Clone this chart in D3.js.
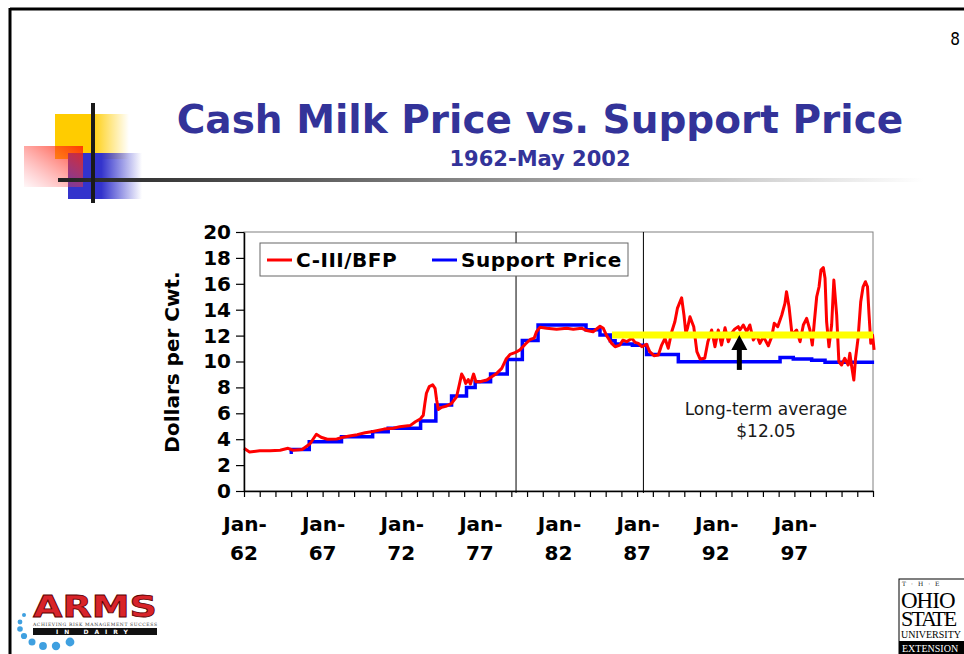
<!DOCTYPE html>
<html>
<head>
<meta charset="utf-8">
<script src="https://cdn.jsdelivr.net/npm/d3@7"></script>
<style>
  body { margin: 0; background: #fff; }
  svg { display: block; }
</style>
</head>
<body>
<svg></svg>
<script>
const width = 964, height = 654

// C-III / BFP cash price (decimal year, $/cwt)
const priceYears = [1962.0, 1962.35, 1963.0, 1963.65, 1964.3, 1964.8, 1965.1, 1965.7, 1966.2, 1966.6,
    1966.9, 1967.3, 1967.9, 1968.3, 1968.7, 1969.2, 1969.7, 1970.2, 1970.9, 1971.5,
    1971.9, 1972.56, 1972.9, 1973.2, 1973.4, 1973.5, 1973.6, 1973.78, 1974.0, 1974.15,
    1974.25, 1974.36, 1974.57, 1974.89, 1975.2, 1975.52, 1975.69, 1975.84, 1975.99, 1976.1,
    1976.26, 1976.4, 1976.6, 1976.75, 1977.0, 1977.44, 1977.75, 1978.07, 1978.39, 1978.66,
    1978.92, 1979.23, 1979.55, 1979.9, 1980.2, 1980.45, 1980.6, 1980.82, 1981.25, 1981.88,
    1982.52, 1982.94, 1983.47, 1983.79, 1984.2, 1984.64, 1984.85, 1985.06, 1985.38, 1985.6,
    1985.9, 1986.1, 1986.34, 1986.66, 1986.87, 1987.08, 1987.3, 1987.6, 1987.8, 1988.07,
    1988.35, 1988.56, 1988.77, 1988.98, 1989.2, 1989.4, 1989.56, 1989.83, 1989.98, 1990.1,
    1990.2, 1990.36, 1990.6, 1990.8, 1991.0, 1991.3, 1991.5, 1991.74, 1991.95, 1992.16,
    1992.37, 1992.59, 1992.8, 1993.0, 1993.2, 1993.43, 1993.54, 1993.75, 1993.97, 1994.17,
    1994.39, 1994.6, 1994.81, 1995.03, 1995.34, 1995.56, 1995.72, 1995.94, 1996.2, 1996.4,
    1996.5, 1996.66, 1996.83, 1997.0, 1997.14, 1997.36, 1997.57, 1997.78, 1997.99, 1998.14,
    1998.27, 1998.42, 1998.57, 1998.69, 1998.84, 1998.95, 1999.05, 1999.2, 1999.37, 1999.51,
    1999.69, 1999.83, 2000.0, 2000.2, 2000.42, 2000.53, 2000.63, 2000.78, 2000.89, 2001.05,
    2001.22, 2001.37, 2001.52, 2001.65, 2001.75, 2001.86, 2001.97, 2002.07]
const priceValues = [3.3, 3.02, 3.1, 3.1, 3.15, 3.3, 3.15, 3.2, 3.65, 4.38,
    4.15, 4.0, 4.02, 4.15, 4.25, 4.35, 4.5, 4.6, 4.78, 4.85,
    4.97, 5.05, 5.35, 5.55, 5.85, 6.75, 7.55, 8.06, 8.2, 7.93,
    7.03, 6.3, 6.46, 6.56, 6.77, 7.28, 8.19, 9.03, 8.7, 8.3,
    8.6, 8.26, 9.03, 8.44, 8.44, 8.57, 8.83, 9.08, 9.47, 10.17,
    10.55, 10.68, 10.9, 11.35, 11.7, 11.8, 12.3, 12.64, 12.57, 12.49,
    12.57, 12.49, 12.57, 12.39, 12.3, 12.72, 12.56, 12.0, 11.4, 11.14,
    11.27, 11.66, 11.53, 11.79, 11.48, 11.4, 11.14, 11.33, 10.76, 10.45,
    10.5, 11.27, 11.79, 11.02, 12.3, 13.07, 14.1, 14.92, 13.58, 12.17,
    12.56, 13.46, 12.69, 10.76, 10.2, 10.25, 11.53, 12.43, 11.14, 12.43,
    11.27, 12.6, 11.53, 12.17, 12.5, 12.69, 12.43, 12.82, 12.3, 12.82,
    11.66, 12.05, 11.4, 11.92, 11.22, 11.92, 12.95, 12.69, 13.59, 14.49,
    15.39, 14.23, 12.3, 12.25, 12.43, 11.53, 12.82, 13.33, 12.43, 11.27,
    13.07, 15.0, 15.77, 17.06, 17.25, 16.42, 13.07, 11.14, 12.82, 16.29,
    13.59, 9.98, 9.73, 10.25, 9.73, 10.63, 9.73, 8.57, 10.25, 11.79,
    14.62, 15.77, 16.16, 15.77, 13.59, 11.4, 12.05, 10.9]

// support price, each value holds from its year until the next one
const supportYears = [1964.9, 1965.0, 1966.15, 1968.2, 1970.18, 1971.17, 1973.23, 1974.2, 1975.2, 1976.15,
    1976.7, 1977.68, 1978.74, 1979.7, 1980.7, 1983.75, 1984.64, 1985.3, 1985.6, 1986.7,
    1987.6, 1989.62, 1996.09, 1996.93, 1998.1, 1998.95, 2002.07]
const supportValues = [3.0, 3.2, 3.8, 4.18, 4.57, 4.84, 5.41, 6.64, 7.34, 8.0,
    8.44, 9.03, 10.15, 11.62, 12.82, 12.45, 12.05, 11.6, 11.35, 11.25,
    10.55, 9.98, 10.3, 10.2, 10.1, 9.94, 9.94]

const yTickValues = [0, 2, 4, 6, 8, 10, 12, 14, 16, 18, 20]
const xLabelYears = [1962, 1967, 1972, 1977, 1982, 1987, 1992, 1997]
const xLabelTexts = ["62", "67", "72", "77", "82", "87", "92", "97"]
const eraLines = [1979.3, 1987.4]
const averageValue = 12.05, averageFrom = 1985.4, averageTo = 2002.0
const arrowYear = 1993.5, arrowFoot = 9.35

const svg = d3.select("svg")
    .attr("width", width)
    .attr("height", height)

const x = d3.scaleLinear().domain([1962, 2002]).range([244, 873])
const y = d3.scaleLinear().domain([0, 20]).range([491, 232])

const chartFont = "'DejaVu Sans', Verdana, sans-serif"

drawSlide()
drawChart()
drawLogos()

function drawSlide() {
    const defs = svg.append("defs")

    const yellowGrad = defs.append("linearGradient").attr("id", "yellowGrad")
    yellowGrad.append("stop").attr("offset", "0%").attr("stop-color", "#ffcc00")
    yellowGrad.append("stop").attr("offset", "48%").attr("stop-color", "#ffcc00")
    yellowGrad.append("stop").attr("offset", "100%").attr("stop-color", "#ffcc00").attr("stop-opacity", 0)

    const blueGrad = defs.append("linearGradient").attr("id", "blueGrad")
    blueGrad.append("stop").attr("offset", "0%").attr("stop-color", "#3333cc")
    blueGrad.append("stop").attr("offset", "45%").attr("stop-color", "#3333cc")
    blueGrad.append("stop").attr("offset", "100%").attr("stop-color", "#3333cc").attr("stop-opacity", 0)

    const redGrad = defs.append("linearGradient").attr("id", "redGrad")
        .attr("x1", "100%").attr("y1", "0%").attr("x2", "0%").attr("y2", "100%")
    redGrad.append("stop").attr("offset", "0%").attr("stop-color", "#ff2200").attr("stop-opacity", 0.85)
    redGrad.append("stop").attr("offset", "100%").attr("stop-color", "#ff5a6a").attr("stop-opacity", 0.05)

    const barGrad = defs.append("linearGradient").attr("id", "barGrad")
    barGrad.append("stop").attr("offset", "0%").attr("stop-color", "#222")
    barGrad.append("stop").attr("offset", "25%").attr("stop-color", "#555")
    barGrad.append("stop").attr("offset", "100%").attr("stop-color", "#fff")

    // slide border
    svg.append("line").attr("x1", 10).attr("y1", 9).attr("x2", width).attr("y2", 9)
        .attr("stroke", "#000").attr("stroke-width", 3)
    svg.append("line").attr("x1", 10).attr("y1", 8).attr("x2", 10).attr("y2", height)
        .attr("stroke", "#000").attr("stroke-width", 3)

    // corner ornament
    svg.append("rect").attr("x", 55).attr("y", 114).attr("width", 74).attr("height", 45).attr("fill", "url(#yellowGrad)")
    svg.append("rect").attr("x", 68).attr("y", 153).attr("width", 74).attr("height", 46).attr("fill", "url(#blueGrad)")
    svg.append("rect").attr("x", 24).attr("y", 146).attr("width", 59).attr("height", 41).attr("fill", "url(#redGrad)")
    svg.append("rect").attr("x", 58).attr("y", 178).attr("width", 866).attr("height", 4).attr("fill", "url(#barGrad)")
    svg.append("rect").attr("x", 91).attr("y", 103).attr("width", 4).attr("height", 100).attr("fill", "#1a1a1a")

    svg.append("text")
        .attr("x", 540).attr("y", 133)
        .attr("text-anchor", "middle")
        .attr("font-family", chartFont)
        .attr("font-weight", "bold")
        .attr("font-size", 39)
        .attr("fill", "#333399")
        .text("Cash Milk Price vs. Support Price")

    svg.append("text")
        .attr("x", 540).attr("y", 166)
        .attr("text-anchor", "middle")
        .attr("font-family", chartFont)
        .attr("font-weight", "bold")
        .attr("font-size", 21)
        .attr("fill", "#333399")
        .text("1962-May 2002")

    svg.append("text")
        .attr("x", 955).attr("y", 45)
        .attr("text-anchor", "middle")
        .attr("font-family", "'DejaVu Sans Condensed', sans-serif")
        .attr("font-size", 17)
        .attr("fill", "#000")
        .text("8")
}

function drawChart() {
    // plot frame
    svg.append("rect")
        .attr("x", x(1962)).attr("y", y(20))
        .attr("width", x(2002) - x(1962)).attr("height", y(0) - y(20))
        .attr("fill", "none").attr("stroke", "#808080").attr("stroke-width", 1)

    svg.selectAll(".era")
        .data(eraLines)
        .enter()
        .append("line")
        .attr("x1", d => x(d)).attr("x2", d => x(d))
        .attr("y1", y(20)).attr("y2", y(0) + 2)
        .attr("stroke", "#000").attr("stroke-width", 1)

    const price = priceYears.map((d, i) => [d, priceValues[i]])
    const support = supportYears.map((d, i) => [d, supportValues[i]])

    const line = d3.line().x(d => x(d[0])).y(d => y(d[1]))

    svg.append("path")
        .attr("d", line.curve(d3.curveStepAfter)(support))
        .attr("fill", "none").attr("stroke", "#0000ff").attr("stroke-width", 3.5)

    svg.append("path")
        .attr("d", line.curve(d3.curveLinear)(price))
        .attr("fill", "none").attr("stroke", "#ff0000").attr("stroke-width", 3)
        .attr("stroke-linejoin", "round")

    // long-term average
    svg.append("line")
        .attr("x1", x(averageFrom)).attr("x2", x(averageTo))
        .attr("y1", y(averageValue)).attr("y2", y(averageValue))
        .attr("stroke", "#ffff00").attr("stroke-width", 7)

    const ax = x(arrowYear), tip = y(averageValue)
    svg.append("rect")
        .attr("x", ax - 2.5).attr("y", tip + 12)
        .attr("width", 5).attr("height", y(arrowFoot) - tip - 12)
        .attr("fill", "#000")
    svg.append("path")
        .attr("d", `M${ax},${tip} L${ax + 8},${tip + 15} L${ax - 8},${tip + 15} Z`)
        .attr("fill", "#000")

    const note = svg.append("text")
        .attr("text-anchor", "middle")
        .attr("font-family", chartFont)
        .attr("font-size", 17)
        .attr("fill", "#1a1a1a")
    note.append("tspan").attr("x", 766).attr("y", 415).text("Long-term average")
    note.append("tspan").attr("x", 766).attr("y", 437).text("$12.05")

    // axes
    const yAxis = svg.append("g")
        .attr("transform", `translate(${x(1962)},0)`)
        .call(d3.axisLeft(y).tickValues(yTickValues).tickSize(8).tickSizeOuter(0).tickPadding(5))
    yAxis.select(".domain").attr("stroke", "#000").attr("stroke-width", 1.5)
    yAxis.selectAll(".tick line").attr("stroke", "#000").attr("stroke-width", 1.2)
    yAxis.selectAll("text")
        .attr("font-family", chartFont)
        .attr("font-weight", "bold")
        .attr("font-size", 20)
        .attr("fill", "#000")

    const xAxis = svg.append("g")
        .attr("transform", `translate(0,${y(0)})`)
        .call(d3.axisBottom(x).tickValues(d3.range(1962, 2003)).tickSize(6).tickSizeOuter(0).tickFormat(""))
    xAxis.select(".domain").attr("stroke", "#000").attr("stroke-width", 1.5)
    xAxis.selectAll(".tick line").attr("stroke", "#000").attr("stroke-width", 1.2)

    const xLabels = svg.selectAll(".xlab")
        .data(xLabelYears)
        .enter()
        .append("text")
        .attr("text-anchor", "middle")
        .attr("font-family", chartFont)
        .attr("font-weight", "bold")
        .attr("font-size", 20)
        .attr("fill", "#000")
    xLabels.append("tspan").attr("x", d => x(d) + 1).attr("y", 531).text("Jan-")
    xLabels.append("tspan").attr("x", d => x(d)).attr("y", 560).text((d, i) => xLabelTexts[i])

    svg.append("text")
        .attr("transform", "translate(179,362) rotate(-90)")
        .attr("text-anchor", "middle")
        .attr("font-family", chartFont)
        .attr("font-weight", "bold")
        .attr("font-size", 20)
        .attr("fill", "#000")
        .text("Dollars per Cwt.")

    // legend
    svg.append("rect")
        .attr("x", 260).attr("y", 243).attr("width", 368).attr("height", 33)
        .attr("fill", "#fff").attr("stroke", "#666").attr("stroke-width", 1)
    const legend = [
        { name: "C-III/BFP", color: "#ff0000", x: 267 },
        { name: "Support Price", color: "#0000ff", x: 432 }
    ]
    legend.forEach(d => {
        svg.append("line")
            .attr("x1", d.x).attr("x2", d.x + 25).attr("y1", 260).attr("y2", 260)
            .attr("stroke", d.color).attr("stroke-width", 3)
        svg.append("text")
            .attr("x", d.x + 29).attr("y", 267)
            .attr("font-family", chartFont)
            .attr("font-weight", "bold")
            .attr("font-size", 20)
            .attr("letter-spacing", 0.5)
            .attr("fill", "#000")
            .text(d.name)
    })
}

function drawLogos() {
    // ARMS in dairy
    const arms = svg.append("g")
    const dots = [[24, 615, 2], [20, 622, 2.4], [20, 629, 2.8], [24, 636, 3.1], [32, 642, 3.5], [43, 646, 3.9], [56, 646, 4.2], [70, 642, 4.4]]
    arms.selectAll("circle")
        .data(dots)
        .enter()
        .append("circle")
        .attr("cx", d => d[0]).attr("cy", d => d[1]).attr("r", d => d[2])
        .attr("fill", "#3fa0e0")
    arms.append("text")
        .attr("x", 95).attr("y", 617)
        .attr("text-anchor", "middle")
        .attr("font-family", "'DejaVu Sans', sans-serif")
        .attr("font-weight", "bold")
        .attr("font-size", 31)
        .attr("textLength", 124)
        .attr("lengthAdjust", "spacingAndGlyphs")
        .attr("fill", "#d8242a")
        .attr("stroke", "#5a0000")
        .attr("stroke-width", 0.8)
        .text("ARMS")
    arms.append("text")
        .attr("x", 95).attr("y", 626)
        .attr("text-anchor", "middle")
        .attr("font-family", "'DejaVu Serif', serif")
        .attr("font-size", 4.5)
        .attr("textLength", 124)
        .attr("fill", "#333")
        .text("ACHIEVING RISK MANAGEMENT SUCCESS")
    arms.append("rect").attr("x", 33).attr("y", 628).attr("width", 124).attr("height", 7).attr("fill", "#111")
    arms.append("text")
        .attr("x", 95).attr("y", 634)
        .attr("text-anchor", "middle")
        .attr("font-family", "'DejaVu Sans', sans-serif")
        .attr("font-weight", "bold")
        .attr("font-size", 6)
        .attr("letter-spacing", 6)
        .attr("fill", "#fff")
        .text("IN DAIRY")

    // Ohio State University Extension
    const osu = svg.append("g")
    osu.append("rect").attr("x", 899).attr("y", 579).attr("width", 80).attr("height", 80)
        .attr("fill", "#fff").attr("stroke", "#000").attr("stroke-width", 1)
    osu.append("text").attr("x", 902).attr("y", 586)
        .attr("font-family", "'DejaVu Serif', serif").attr("font-size", 6).attr("letter-spacing", 5)
        .text("T·H·E")
    osu.append("text").attr("x", 901).attr("y", 608)
        .attr("font-family", "'Liberation Serif', serif").attr("font-size", 23)
        .attr("letter-spacing", -1)
        .text("OHIO")
    osu.append("text").attr("x", 901).attr("y", 626)
        .attr("font-family", "'Liberation Serif', serif").attr("font-size", 22)
        .attr("letter-spacing", -2)
        .text("STATE")
    osu.append("text").attr("x", 901).attr("y", 638)
        .attr("font-family", "'Liberation Serif', serif").attr("font-size", 10)
        .text("UNIVERSITY")
    osu.append("rect").attr("x", 899).attr("y", 641).attr("width", 70).attr("height", 14).attr("fill", "#000")
    osu.append("text").attr("x", 902).attr("y", 652)
        .attr("font-family", "'Liberation Serif', serif").attr("font-size", 10)
        .attr("fill", "#fff")
        .text("EXTENSION")
}
</script>
</body>
</html>
